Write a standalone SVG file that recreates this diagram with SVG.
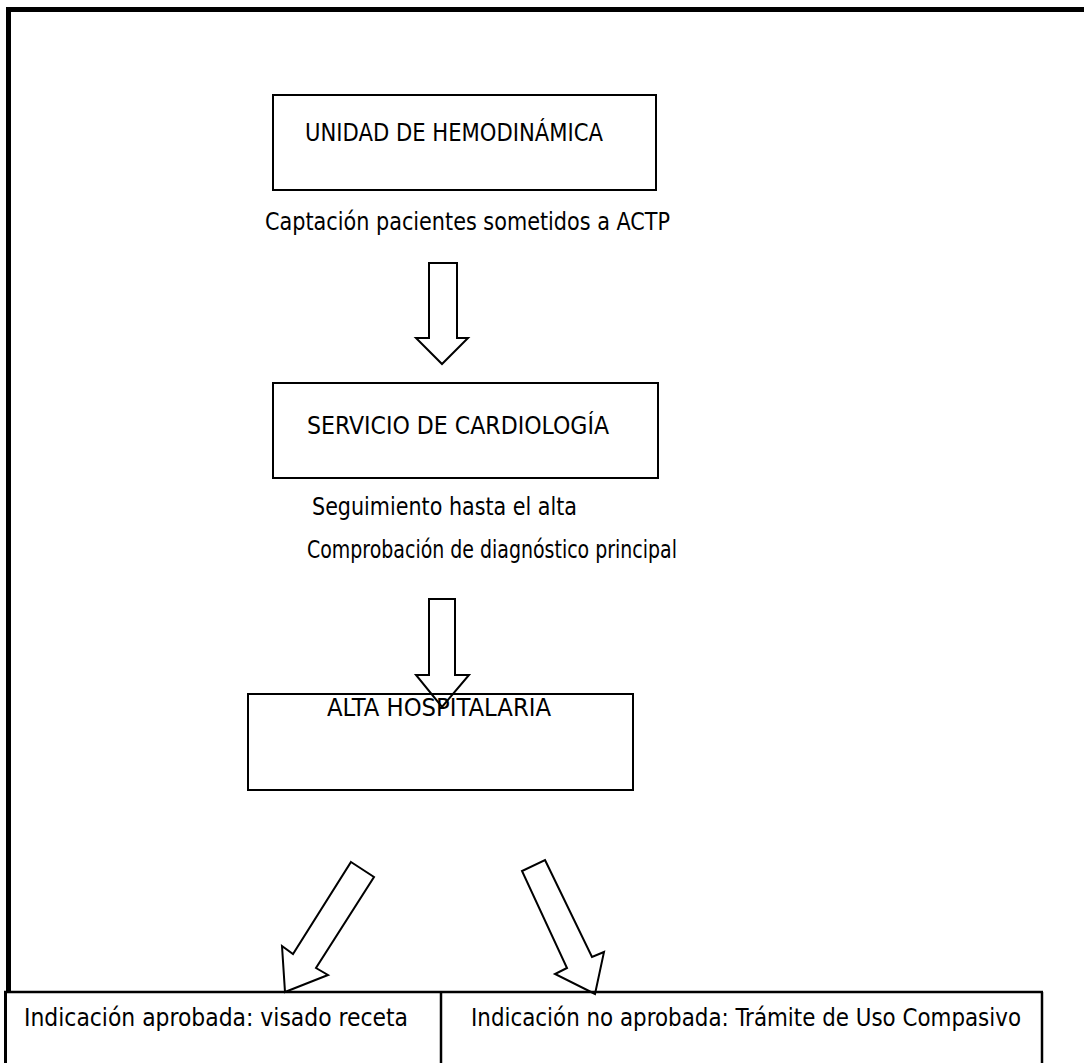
<svg xmlns="http://www.w3.org/2000/svg" width="1084" height="1063" viewBox="0 0 1084 1063">
<style>
.box{fill:none;stroke:#000;stroke-width:2}
.arr{fill:none;stroke:#000;stroke-width:2;stroke-linejoin:miter}
.t{font-family:"DejaVu Sans Condensed","DejaVu Sans",sans-serif;font-stretch:condensed;font-size:24px;fill:#000}
</style>
<rect width="1084" height="1063" fill="#fff"/>
<g id="frame">
<rect x="6" y="7" width="5" height="985" fill="#000"/>
<rect x="6" y="7" width="1078" height="5" fill="#000"/>
<rect x="4" y="992" width="3" height="71" fill="#000"/>
</g>
<g id="node-hemodinamica">
<rect class="box" x="273" y="95" width="383" height="95"/>
<text class="t" x="305" y="141" textLength="298" lengthAdjust="spacingAndGlyphs">UNIDAD DE HEMODINÁMICA</text>
</g>
<g id="label-captacion">
<text class="t" x="265" y="230" textLength="405" lengthAdjust="spacingAndGlyphs">Captación pacientes sometidos a ACTP</text>
</g>
<g id="node-cardiologia">
<rect class="box" x="273" y="383" width="385" height="95"/>
<text class="t" x="307" y="434" textLength="302" lengthAdjust="spacingAndGlyphs">SERVICIO DE CARDIOLOGÍA</text>
</g>
<g id="label-seguimiento">
<text class="t" x="312" y="515" textLength="265" lengthAdjust="spacingAndGlyphs">Seguimiento hasta el alta</text>
<text class="t" x="307" y="558" textLength="370" lengthAdjust="spacingAndGlyphs">Comprobación de diagnóstico principal</text>
</g>
<g id="node-alta">
<rect class="box" x="248" y="694" width="385" height="96"/>
<text class="t" x="327" y="716" textLength="224" lengthAdjust="spacingAndGlyphs">ALTA HOSPITALARIA</text>
</g>
<g id="node-bottom">
<line x1="4" y1="992" x2="1043" y2="992" stroke="#000" stroke-width="2.5"/>
<line x1="441" y1="992" x2="441" y2="1063" stroke="#000" stroke-width="2.5"/>
<line x1="1042" y1="992" x2="1042" y2="1063" stroke="#000" stroke-width="2.5"/>
</g>
<g id="node-aprobada">
<text class="t" x="24" y="1026" textLength="384" lengthAdjust="spacingAndGlyphs">Indicación aprobada: visado receta</text>
</g>
<g id="node-no-aprobada">
<text class="t" x="471" y="1026" textLength="550" lengthAdjust="spacingAndGlyphs">Indicación no aprobada: Trámite de Uso Compasivo</text>
</g>
<g id="connectors">
<polygon class="arr" points="429,263 457,263 457,338 468,338 442,364 416,338 429,338"/>
<polygon class="arr" points="429,599 455,599 455,675 469,675 442,707 416,675 429,675"/>
<polygon class="arr" points="351,862 374,877 316,968 328,975 285,992 282,946 293,954"/>
<polygon class="arr" points="545,860 592,957 604,952 595,994 555,974 567,968 522,871"/>
</g>
</svg>
